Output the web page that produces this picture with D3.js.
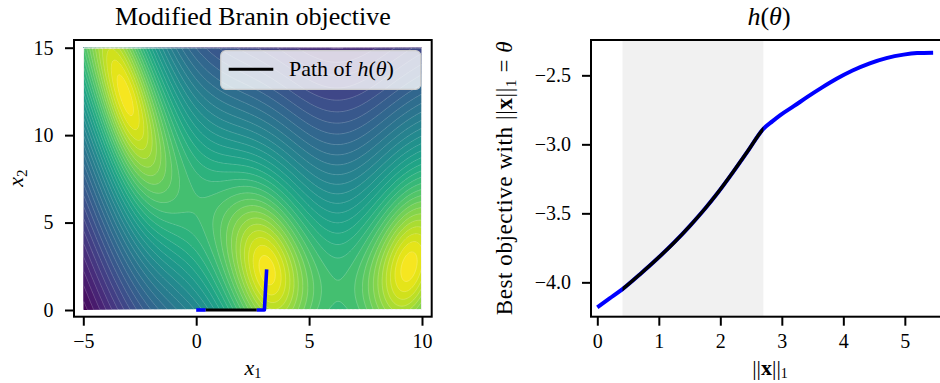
<!DOCTYPE html>
<html>
<head>
<meta charset="utf-8">
<script src="https://cdn.jsdelivr.net/npm/d3@7"></script>
<style>
  body { margin: 0; background: #fff; }
  svg { display: block; }
  text { font-family: "Liberation Serif", "DejaVu Serif", serif; fill: #000; }
</style>
</head>
<body>
<svg id="chart" width="940" height="383"></svg>
<script>
// ---- data ----
// modified Branin objective: -log(branin(x) + 10)
const branin = {b: 5.1 / (4 * Math.PI * Math.PI), c: 5 / Math.PI, r: 6, s: 10, t: 1 / (8 * Math.PI)};
const x1Domain = [-5, 10];
const x2Domain = [0, 15];
const levelStep = 0.1;
const x1Ticks = [-5, 0, 5, 10];
const x2Ticks = [0, 5, 10, 15];

// path of h(theta) in x-space
const pathX1 = [0, 0.42, 2.68, 3.02, 3.12];
const pathX2 = [0, 0, 0, 0, 2.32];
const pathColors = ["blue", "black", "blue", "blue"];

// h(theta) curve
const theta = [0, 0.2, 0.41, 0.7, 0.97, 1.25, 1.51, 1.75, 1.94, 2.21, 2.45, 2.70,
               2.85, 2.97, 3.2, 3.41, 3.65, 3.89, 4.15, 4.43, 4.7, 4.98, 5.2, 5.46];
const hVals = [-4.181, -4.117, -4.049, -3.939, -3.831, -3.711, -3.589, -3.467, -3.362, -3.199, -3.047, -2.888,
               -2.832, -2.790, -2.722, -2.658, -2.589, -2.525, -2.465, -2.413, -2.375, -2.350, -2.339, -2.336];
const band = [0.41, 2.70];
const thetaTicks = [0, 1, 2, 3, 4, 5];
const hTicks = [-4.0, -3.5, -3.0, -2.5];

const svg = d3.select("#chart");
const fmt = d3.format("d");
const fmt1 = d3.format(".1f");

function objective(x1, x2) {
  const q = x2 - branin.b * x1 * x1 + branin.c * x1 - branin.r;
  const f = q * q + branin.s * (1 - branin.t) * Math.cos(x1) + branin.s;
  return -Math.log(f + 10);
}

function styleAxis(g) {
  g.attr("font-family", null);
  g.select(".domain").remove();
  g.selectAll(".tick line").attr("stroke", "#000").attr("stroke-width", 2);
  g.selectAll(".tick text").attr("font-size", 20).attr("fill", "#000")
    .style("font-family", "'Liberation Serif', serif");
}

// ================= left panel =================
const L = {left: 74, right: 431.7, top: 40, bottom: 316.7};
const xL = d3.scaleLinear().domain(x1Domain).range([83.3, 422]);
const yL = d3.scaleLinear().domain(x2Domain).range([310, 47.7]);

const nx = 260, ny = 260;
const dx1 = (x1Domain[1] - x1Domain[0]) / nx;
const dx2 = (x2Domain[1] - x2Domain[0]) / ny;
const grid = new Float64Array(nx * ny);
for (let j = 0; j < ny; j++) {
  for (let i = 0; i < nx; i++) {
    grid[j * nx + i] = objective(x1Domain[0] + (i + 0.5) * dx1, x2Domain[0] + (j + 0.5) * dx2);
  }
}
const [vmin, vmax] = d3.extent(grid);
const kLo = Math.floor(vmin / levelStep), kHi = Math.ceil(vmax / levelStep);
const levels = d3.range(kLo, kHi + 1).map(k => k * levelStep);
const thresholds = levels.slice(0, -1);
const color = d3.scaleSequential(d3.interpolateViridis).domain([levels[0], levels[levels.length - 1]]);

const contours = d3.contours().size([nx, ny]).thresholds(thresholds)(grid);
const gridProj = d3.geoTransform({
  point(px, py) {
    this.stream.point(xL(x1Domain[0] + px * dx1), yL(x2Domain[0] + py * dx2));
  }
});
const geo = d3.geoPath(gridProj);

svg.append("clipPath").attr("id", "clipL")
  .append("rect").attr("x", xL(x1Domain[0])).attr("y", yL(x2Domain[1]))
  .attr("width", xL(x1Domain[1]) - xL(x1Domain[0]))
  .attr("height", yL(x2Domain[0]) - yL(x2Domain[1]));

const gC = svg.append("g").attr("clip-path", "url(#clipL)");
gC.selectAll("path.fill")
  .data(contours)
  .join("path")
  .attr("class", "fill")
  .attr("d", geo)
  .attr("fill", d => color(d.value + levelStep / 2))
  .attr("stroke", d => color(d.value + levelStep / 2))
  .attr("stroke-width", 0.3);
gC.selectAll("path.line")
  .data(contours.slice(1))
  .join("path")
  .attr("class", "line")
  .attr("d", geo)
  .attr("fill", "none")
  .attr("stroke", "#fff")
  .attr("stroke-opacity", 0.35)
  .attr("stroke-width", 0.6);

// path of h(theta)
const pathLine = d3.line().x(d => xL(d[0])).y(d => yL(d[1]));
const pts = pathX1.map((v, i) => [v, pathX2[i]]);
svg.append("path").attr("d", pathLine(pts.slice(0, 2)))
  .attr("fill", "none").attr("stroke", pathColors[0]).attr("stroke-width", 3.6);
svg.append("path").attr("d", pathLine(pts.slice(2)))
  .attr("fill", "none").attr("stroke", pathColors[2]).attr("stroke-width", 3.6)
  .attr("stroke-linejoin", "round");
svg.append("path").attr("d", pathLine(pts.slice(1, 3)))
  .attr("fill", "none").attr("stroke", pathColors[1]).attr("stroke-width", 3);

// frame
svg.append("rect").attr("x", L.left).attr("y", L.top)
  .attr("width", L.right - L.left).attr("height", L.bottom - L.top)
  .attr("fill", "none").attr("stroke", "#000").attr("stroke-width", 2);

svg.append("g").attr("transform", `translate(0,${L.bottom})`)
  .call(d3.axisBottom(xL).tickValues(x1Ticks).tickFormat(fmt).tickSize(9).tickPadding(8))
  .call(styleAxis);
svg.append("g").attr("transform", `translate(${L.left},0)`)
  .call(d3.axisLeft(yL).tickValues(x2Ticks).tickFormat(fmt).tickSize(9).tickPadding(11.5))
  .call(styleAxis);

// legend
const lg = svg.append("g");
lg.append("rect").attr("x", 220.7).attr("y", 50.7).attr("width", 200).attr("height", 38.6)
  .attr("rx", 5).attr("fill", "#fff").attr("fill-opacity", 0.8)
  .attr("stroke", "#ccc").attr("stroke-width", 1.2);
lg.append("line").attr("x1", 228.7).attr("x2", 273.3).attr("y1", 69.3).attr("y2", 69.3)
  .attr("stroke", "#000").attr("stroke-width", 3);
const lt = lg.append("text").attr("x", 289).attr("y", 76).attr("font-size", 22);
lt.append("tspan").text("Path of ");
lt.append("tspan").attr("font-style", "italic").text("h");
lt.append("tspan").text("(");
lt.append("tspan").attr("font-style", "italic").text("θ");
lt.append("tspan").text(")");

// titles and labels
svg.append("text").attr("x", (L.left + L.right) / 2).attr("y", 25)
  .attr("text-anchor", "middle").attr("font-size", 26).text("Modified Branin objective");

const xl1 = svg.append("text").attr("x", (L.left + L.right) / 2).attr("y", 375)
  .attr("text-anchor", "middle").attr("font-size", 22);
xl1.append("tspan").attr("font-style", "italic").text("x");
xl1.append("tspan").attr("font-size", 14).attr("dy", 3).text("1");

const xl2 = svg.append("text").attr("transform", "translate(23,178) rotate(-90)")
  .attr("text-anchor", "middle").attr("font-size", 22);
xl2.append("tspan").attr("font-style", "italic").text("x");
xl2.append("tspan").attr("font-size", 15).attr("dy", 4).text("2");

// ================= right panel =================
const R = {left: 591, right: 941, top: 40, bottom: 316.7};
const xR = d3.scaleLinear().domain([-0.1025, 5.588]).range([R.left, R.right]);
const yR = d3.scaleLinear().domain([-4.249, -2.244]).range([R.bottom, R.top]);

svg.append("rect").attr("x", xR(band[0])).attr("y", R.top)
  .attr("width", xR(band[1]) - xR(band[0])).attr("height", R.bottom - R.top)
  .attr("fill", "#f1f1f1");

const curve = d3.line().x(d => xR(d[0])).y(d => yR(d[1])).curve(d3.curveMonotoneX);
const hData = theta.map((t, i) => [t, hVals[i]]);
svg.append("path").attr("d", curve(hData))
  .attr("fill", "none").attr("stroke", "blue").attr("stroke-width", 4);

svg.append("clipPath").attr("id", "clipBand")
  .append("rect").attr("x", xR(band[0])).attr("y", 0)
  .attr("width", xR(band[1]) - xR(band[0])).attr("height", 383);
svg.append("path").attr("d", curve(hData)).attr("clip-path", "url(#clipBand)")
  .attr("fill", "none").attr("stroke", "#000").attr("stroke-width", 3.4);

svg.append("rect").attr("x", R.left).attr("y", R.top)
  .attr("width", R.right - R.left).attr("height", R.bottom - R.top)
  .attr("fill", "none").attr("stroke", "#000").attr("stroke-width", 2);

svg.append("g").attr("transform", `translate(0,${R.bottom})`)
  .call(d3.axisBottom(xR).tickValues(thetaTicks).tickFormat(fmt).tickSize(9).tickPadding(8))
  .call(styleAxis);
svg.append("g").attr("transform", `translate(${R.left},0)`)
  .call(d3.axisLeft(yR).tickValues(hTicks).tickFormat(fmt1).tickSize(9).tickPadding(11))
  .call(styleAxis);

const tR = svg.append("text").attr("x", 769).attr("y", 25)
  .attr("text-anchor", "middle").attr("font-size", 26);
tR.append("tspan").attr("font-style", "italic").text("h");
tR.append("tspan").text("(");
tR.append("tspan").attr("font-style", "italic").text("θ");
tR.append("tspan").text(")");

const xlR = svg.append("text").attr("x", 770).attr("y", 375)
  .attr("text-anchor", "middle").attr("font-size", 22);
xlR.append("tspan").text("||");
xlR.append("tspan").attr("font-weight", "bold").text("x");
xlR.append("tspan").text("||");
xlR.append("tspan").attr("font-size", 14).attr("dy", 3).text("1");

const ylR = svg.append("text").attr("transform", "translate(512,178) rotate(-90)")
  .attr("text-anchor", "middle").attr("font-size", 23).attr("letter-spacing", 0.6);
ylR.append("tspan").text("Best objective with ||");
ylR.append("tspan").attr("font-weight", "bold").text("x");
ylR.append("tspan").text("||");
ylR.append("tspan").attr("font-size", 15).attr("dy", 4).text("1");
ylR.append("tspan").attr("dy", -4).text(" = ");
ylR.append("tspan").attr("font-style", "italic").text("θ");
</script>
</body>
</html>
